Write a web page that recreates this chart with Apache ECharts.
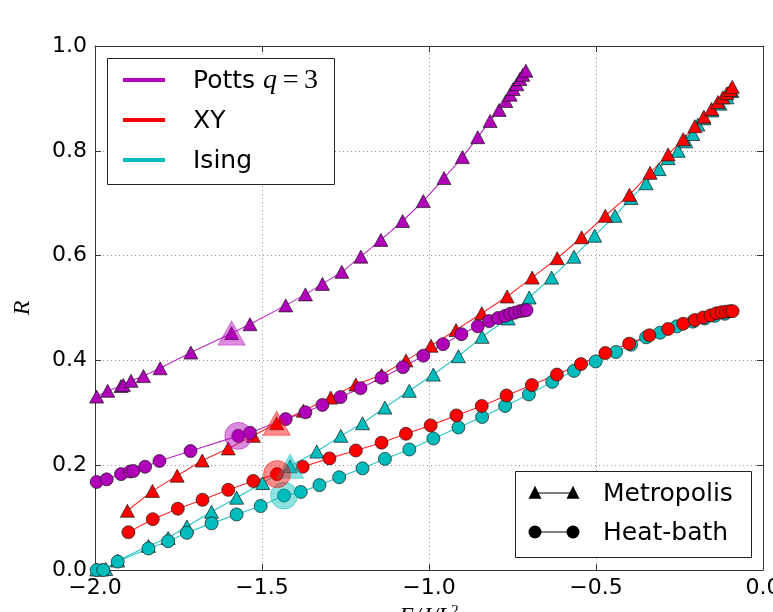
<!DOCTYPE html>
<html><head><meta charset="utf-8">
<script src="https://cdn.jsdelivr.net/npm/echarts@6/dist/echarts.min.js"></script>
<style>html,body{margin:0;padding:0;background:#fff}#c{width:773px;height:612px}</style>
</head><body><div id="c"></div>
<script>
// ---------- data (x = E/J/L^2, y = R) ----------
const xTicks = [-2.0, -1.5, -1.0, -0.5, 0.0];
const yTicks = [0.0, 0.2, 0.4, 0.6, 0.8, 1.0];

const pottsMetropolis = [
  [-1.995,0.331],[-1.962,0.342],[-1.922,0.351],[-1.915,0.353],[-1.892,0.361],[-1.855,0.370],
  [-1.805,0.385],[-1.713,0.415],[-1.591,0.452],[-1.536,0.469],[-1.429,0.505],[-1.370,0.526],
  [-1.319,0.546],[-1.261,0.569],[-1.204,0.598],[-1.144,0.630],[-1.079,0.666],[-1.017,0.704],
  [-0.955,0.748],[-0.900,0.788],[-0.854,0.826],[-0.817,0.857],[-0.790,0.878],[-0.770,0.895],
  [-0.757,0.907],[-0.748,0.918],[-0.737,0.927],[-0.728,0.937],[-0.719,0.945],[-0.710,0.953]
];
const pottsHeatBath = [
  [-1.995,0.168],[-1.965,0.173],[-1.922,0.183],[-1.895,0.188],[-1.885,0.189],[-1.850,0.197],
  [-1.807,0.208],[-1.714,0.227],[-1.571,0.256],[-1.536,0.262],[-1.429,0.288],[-1.370,0.301],
  [-1.319,0.315],[-1.265,0.330],[-1.205,0.347],[-1.142,0.367],[-1.078,0.387],[-1.017,0.409],
  [-0.958,0.431],[-0.903,0.450],[-0.854,0.465],[-0.820,0.475],[-0.793,0.481],[-0.772,0.485],
  [-0.757,0.489],[-0.743,0.491],[-0.728,0.494],[-0.716,0.495],[-0.708,0.496]
];
const xyMetropolis = [
  [-1.903,0.113],[-1.828,0.151],[-1.754,0.180],[-1.679,0.209],[-1.601,0.232],[-1.526,0.256],
  [-1.456,0.280],[-1.376,0.304],[-1.294,0.329],[-1.219,0.354],[-1.142,0.372],[-1.069,0.400],
  [-0.994,0.428],[-0.919,0.458],[-0.842,0.490],[-0.766,0.522],[-0.691,0.558],[-0.616,0.595],
  [-0.543,0.635],[-0.472,0.676],[-0.400,0.716],[-0.338,0.758],[-0.284,0.793],[-0.239,0.822],
  [-0.204,0.847],[-0.177,0.865],[-0.154,0.880],[-0.135,0.893],[-0.120,0.902],[-0.108,0.910],
  [-0.097,0.916],[-0.092,0.922]
];
const xyHeatBath = [
  [-1.900,0.072],[-1.827,0.097],[-1.752,0.117],[-1.678,0.134],[-1.601,0.153],[-1.526,0.170],
  [-1.455,0.183],[-1.378,0.197],[-1.298,0.213],[-1.219,0.228],[-1.142,0.243],[-1.069,0.260],
  [-0.995,0.276],[-0.918,0.295],[-0.842,0.313],[-0.768,0.333],[-0.692,0.353],[-0.617,0.373],
  [-0.545,0.393],[-0.472,0.414],[-0.401,0.432],[-0.340,0.448],[-0.284,0.460],[-0.239,0.470],
  [-0.204,0.477],[-0.179,0.482],[-0.157,0.486],[-0.139,0.490],[-0.124,0.492],[-0.111,0.493],
  [-0.099,0.494],[-0.091,0.494]
];
const isingMetropolis = [
  [-1.995,0.001],[-1.980,0.001],[-1.968,0.002],[-1.932,0.018],[-1.840,0.046],[-1.781,0.061],
  [-1.725,0.083],[-1.651,0.111],[-1.576,0.138],[-1.498,0.166],[-1.416,0.198],[-1.336,0.226],
  [-1.264,0.256],[-1.199,0.280],[-1.132,0.310],[-1.059,0.342],[-0.987,0.373],[-0.912,0.408],
  [-0.841,0.445],[-0.763,0.480],[-0.700,0.520],[-0.633,0.558],[-0.566,0.598],[-0.504,0.638],
  [-0.443,0.676],[-0.395,0.710],[-0.350,0.738],[-0.311,0.765],[-0.284,0.786],[-0.254,0.800],
  [-0.231,0.818],[-0.210,0.832],[-0.195,0.850],[-0.177,0.862],[-0.153,0.877],[-0.129,0.890],
  [-0.108,0.902],[-0.093,0.914]
];
const isingHeatBath = [
  [-1.995,0.000],[-1.975,0.000],[-1.932,0.016],[-1.840,0.041],[-1.781,0.055],[-1.725,0.071],
  [-1.651,0.089],[-1.576,0.106],[-1.504,0.122],[-1.434,0.142],[-1.384,0.149],[-1.328,0.162],
  [-1.269,0.177],[-1.199,0.194],[-1.132,0.212],[-1.059,0.230],[-0.987,0.251],[-0.912,0.272],
  [-0.841,0.292],[-0.772,0.313],[-0.701,0.335],[-0.631,0.359],[-0.566,0.380],[-0.501,0.398],
  [-0.440,0.416],[-0.395,0.430],[-0.350,0.444],[-0.308,0.453],[-0.258,0.465],[-0.210,0.474],
  [-0.174,0.480],[-0.144,0.485],[-0.114,0.489]
];
// highlighted (critical) points
const pottsMetroCrit = [-1.591,0.452];
const pottsHeatCrit  = [-1.571,0.256];
const xyMetroCrit    = [-1.456,0.280];
const xyHeatCrit     = [-1.455,0.183];
const isingMetroCrit = [-1.416,0.198];
const isingHeatCrit  = [-1.434,0.142];

const modelNames = ['Potts', 'XY', 'Ising'];
const algoNames = ['Metropolis', 'Heat-bath'];

// ---------- styling ----------
const PURPLE = '#b000b8', RED = '#ff0000', CYAN = '#00bcbc';
const SANS = 'DejaVu Sans';
const TICK_FS = 22;

function lineSeries(name, data, color, tri) {
  return {
    type: 'line', name, data, animation: false, silent: true, clip: false,
    symbol: tri ? 'triangle' : 'circle',
    symbolSize: tri ? [14, 13] : 13,
    showAllSymbol: true,
    lineStyle: { color, width: 1.1, opacity: 0.85 },
    itemStyle: { color, borderColor: '#1a1a1a', borderWidth: 0.7 }
  };
}
function critSeries(pt, color, tri) {
  return {
    type: 'scatter', data: [pt], animation: false, silent: true, clip: false,
    symbol: tri ? 'triangle' : 'circle',
    symbolSize: tri ? [27, 24] : 27,
    itemStyle: { color, opacity: 0.45, borderColor: color, borderWidth: 1 },
    z: 5
  };
}

const fmt = v => (v < 0 ? '\u2212' : '') + Math.abs(v).toFixed(1);

const chart = echarts.init(document.getElementById('c'), null, { renderer: 'canvas' });

const baseX = {
  type: 'value', min: xTicks[0], max: xTicks[xTicks.length - 1], interval: 0.5,
  axisLine: { show: true, onZero: false, lineStyle: { color: '#333', width: 1 } },
  axisTick: { show: true, inside: true, length: 6, lineStyle: { color: '#333' } },
};
const baseY = {
  type: 'value', min: yTicks[0], max: yTicks[yTicks.length - 1], interval: 0.2,
  axisLine: { show: true, onZero: false, lineStyle: { color: '#333', width: 1 } },
  axisTick: { show: true, inside: true, length: 6, lineStyle: { color: '#333' } },
};

const tri = (cx, cy, s) => [[cx, cy - s * 0.55], [cx - s * 0.5, cy + s * 0.45], [cx + s * 0.5, cy + s * 0.45]];

chart.setOption({
  backgroundColor: '#fff',
  animation: false,
  grid: { left: 95, top: 46, width: 668, height: 524, containLabel: false, outerBoundsMode: 'none' },
  xAxis: [
    Object.assign({}, baseX, {
      position: 'bottom',
      axisLabel: { show: true, formatter: fmt, fontFamily: SANS, fontSize: TICK_FS, color: '#000', margin: 7 },
      splitLine: { show: true, lineStyle: { color: '#999', type: [1, 3], width: 1 } },
      name: '{i|E/J/L}{s|2}', nameLocation: 'middle', nameGap: 33,
      nameTextStyle: { rich: {
        i: { fontFamily: 'Liberation Serif', fontStyle: 'italic', fontSize: 24, color: '#000' },
        s: { fontFamily: 'Liberation Serif', fontSize: 15, color: '#000', verticalAlign: 'top', padding: [0,0,10,0] }
      } }
    }),
    Object.assign({}, baseX, { position: 'top', axisLabel: { show: false }, splitLine: { show: false } })
  ],
  yAxis: [
    Object.assign({}, baseY, {
      position: 'left',
      axisLabel: { show: true, formatter: fmt, fontFamily: SANS, fontSize: TICK_FS, color: '#000', margin: 8 },
      splitLine: { show: true, lineStyle: { color: '#999', type: [1, 3], width: 1 } },
      name: 'R', nameLocation: 'middle', nameGap: 60,
      nameTextStyle: { fontFamily: 'Liberation Serif', fontStyle: 'italic', fontSize: 24, color: '#000' }
    }),
    Object.assign({}, baseY, { position: 'right', axisLabel: { show: false }, splitLine: { show: false } })
  ],
  series: [
    lineSeries('Ising Metropolis', isingMetropolis, CYAN, true),
    lineSeries('Ising Heat-bath', isingHeatBath, CYAN, false),
    lineSeries('XY Metropolis', xyMetropolis, RED, true),
    lineSeries('XY Heat-bath', xyHeatBath, RED, false),
    lineSeries('Potts Metropolis', pottsMetropolis, PURPLE, true),
    lineSeries('Potts Heat-bath', pottsHeatBath, PURPLE, false),
    critSeries(isingMetroCrit, CYAN, true),
    critSeries(isingHeatCrit, CYAN, false),
    critSeries(xyMetroCrit, RED, true),
    critSeries(xyHeatCrit, RED, false),
    critSeries(pottsMetroCrit, PURPLE, true),
    critSeries(pottsHeatCrit, PURPLE, false)
  ],
  graphic: [
    // model legend
    { type: 'rect', z: 100, shape: { x: 107.5, y: 58.5, width: 227, height: 126 },
      style: { fill: '#fff', stroke: '#222', lineWidth: 1 } },
    { type: 'line', z: 101, shape: { x1: 123, y1: 80, x2: 165, y2: 80 }, style: { stroke: PURPLE, lineWidth: 4 } },
    { type: 'line', z: 101, shape: { x1: 123, y1: 120, x2: 165, y2: 120 }, style: { stroke: RED, lineWidth: 4 } },
    { type: 'line', z: 101, shape: { x1: 123, y1: 160, x2: 165, y2: 160 }, style: { stroke: CYAN, lineWidth: 4 } },
    { type: 'text', z: 101, x: 193, y: 81, style: {
        text: '{s|' + modelNames[0] + ' }{m|q}{n|\u2009=\u20093}', verticalAlign: 'middle',
        rich: {
          s: { fontFamily: SANS, fontSize: 25, fill: '#000' },
          m: { fontFamily: 'Liberation Serif', fontStyle: 'italic', fontSize: 28, fill: '#000' },
          n: { fontFamily: 'Liberation Serif', fontSize: 28, fill: '#000' }
        } } },
    { type: 'text', z: 101, x: 193, y: 121, style: { text: modelNames[1], fontFamily: SANS, fontSize: 25, fill: '#000', verticalAlign: 'middle' } },
    { type: 'text', z: 101, x: 193, y: 161, style: { text: modelNames[2], fontFamily: SANS, fontSize: 25, fill: '#000', verticalAlign: 'middle' } },
    // algorithm legend
    { type: 'rect', z: 100, shape: { x: 515.5, y: 471.5, width: 236, height: 86 },
      style: { fill: '#fff', stroke: '#222', lineWidth: 1 } },
    { type: 'line', z: 101, shape: { x1: 535, y1: 493, x2: 573, y2: 493 }, style: { stroke: '#000', lineWidth: 1 } },
    { type: 'polygon', z: 102, shape: { points: tri(535, 493, 13) }, style: { fill: '#000' } },
    { type: 'polygon', z: 102, shape: { points: tri(573, 493, 13) }, style: { fill: '#000' } },
    { type: 'line', z: 101, shape: { x1: 535, y1: 532, x2: 573, y2: 532 }, style: { stroke: '#000', lineWidth: 1 } },
    { type: 'circle', z: 102, shape: { cx: 535, cy: 532, r: 6.5 }, style: { fill: '#000' } },
    { type: 'circle', z: 102, shape: { cx: 573, cy: 532, r: 6.5 }, style: { fill: '#000' } },
    { type: 'text', z: 101, x: 603, y: 494, style: { text: algoNames[0], fontFamily: SANS, fontSize: 25, fill: '#000', verticalAlign: 'middle' } },
    { type: 'text', z: 101, x: 603, y: 533, style: { text: algoNames[1], fontFamily: SANS, fontSize: 25, fill: '#000', verticalAlign: 'middle' } }
  ]
});
</script></body></html>
